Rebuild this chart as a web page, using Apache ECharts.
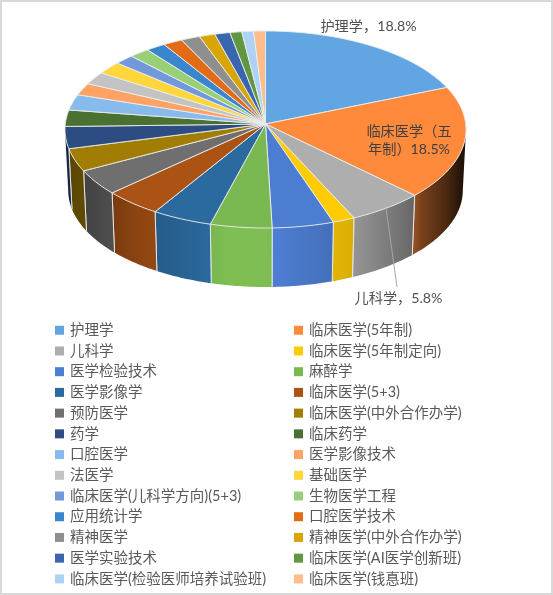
<!DOCTYPE html>
<html>
<head>
<meta charset="utf-8">
<script src="https://cdn.jsdelivr.net/npm/echarts@6/dist/echarts.min.js"></script>
<style>
html,body{margin:0;padding:0;background:#fff}
#chart{position:absolute;left:0;top:0;width:553px;height:595px}
#frame{position:absolute;left:0;top:0;width:553px;height:595px;box-sizing:border-box;border:2px solid #d9d9d9;pointer-events:none}
</style>
</head>
<body>
<div id="chart"></div>
<div id="frame"></div>
<script>
const categories = ['护理学','临床医学(5年制)','儿科学','临床医学(5年制定向)','医学检验技术','麻醉学','医学影像学','临床医学(5+3)','预防医学','临床医学(中外合作办学)','药学','临床药学','口腔医学','医学影像技术','法医学','基础医学','临床医学(儿科学方向)(5+3)','生物医学工程','应用统计学','口腔医学技术','精神医学','精神医学(中外合作办学)','医学实验技术','临床医学(AI医学创新班)','临床医学(检验医师培养试验班)','临床医学(钱惪班)'];
const shares = [18.8,18.5,5.8,1.7,4.7,4.7,4.6,4.4,4.1,3.7,3.6,2.7,2.6,2.0,2.1,2.1,1.65,1.7,1.65,1.65,1.6,1.35,1.3,1.0,1.0,1.0];
const colors = ['#62A5E3','#FF8A3C','#AEAEAE','#FFCB05','#4D7DD1','#7AB851','#2B6A9E','#AB5315','#6F6F6F','#A17D03','#2C4C82','#4A7131','#87BBEC','#FFA263','#C3C3C3','#FFD73A','#7399DD','#99CF77','#3A86CE','#E26B16','#8F8F8F','#D9A505','#3A66B0','#619741','#AED2F6','#FFBC8C'];

// Tilted-disc projection (unit circle to screen with slight perspective)
const P = 0.0558;
const topDisc = {cx:265.5, cy:124, a:98.2, b:200.2};
const baseDisc = {cx:265.5, cy:185, a:96.3, b:197};
const FONT = 'Lato, "Noto Sans CJK SC", sans-serif';
const INK = '#595959';
const EDGE = 'rgba(236,236,236,0.9)';
function project(d, share){
  const t = share/100*Math.PI*2, u = Math.sin(t), v = -Math.cos(t), w = 1-P*v;
  return [d.cx + d.b*u/w, d.cy + d.a*v/w];
}
// Side-wall lighting as a function of horizontal position (-1 left .. 1 right)
const light = [[-1,.55],[-.9,.6],[-.8,.68],[-.6,.85],[-.4,.93],[-.2,1.03],[0,1.03],[.3,.9],[.45,.85],[.74,.6],[.76,.5],[.9,.3],[1,.1]];
function shade(hex, t){
  let k = light[light.length-1][1];
  for(let i=1;i<light.length;i++){
    if(t<=light[i][0]){
      const a=light[i-1], b=light[i], f=Math.max(0,(t-a[0])/(b[0]-a[0]));
      k=a[1]+(b[1]-a[1])*f; break;
    }
  }
  const n=parseInt(hex.slice(1),16), c=[n>>16,(n>>8)&255,n&255].map(x=>Math.min(255,Math.round(x*k)));
  return 'rgb('+c.join(',')+')';
}
function arc(d, s0, s1){
  const pts=[], n=Math.max(2,Math.ceil((s1-s0)/0.2));
  for(let i=0;i<=n;i++) pts.push(project(d, s0+(s1-s0)*i/n));
  return pts;
}
const WALL_FROM = 25.9, WALL_TO = 74.1; // visible front part of the rim, in percent of turn

function labelFor(name, value){
  const pct = value.toFixed(1)+'%';
  const base = {fill:'#505050', font:'14.2px '+FONT, align:'center', verticalAlign:'middle', lineHeight:17.5};
  if(name==='护理学') return [{type:'text',style:Object.assign({},base,{x:368.5,y:26,text:name+'，'+pct})}];
  if(name==='临床医学(5年制)') return [{type:'text',style:Object.assign({},base,{x:409,y:140.5,fill:'#404040',text:'临床医学（五\n年制）'+pct})}];
  if(name==='儿科学') return [
    {type:'polyline',shape:{points:[[386,208],[397,287]]},style:{stroke:'#a6a6a6',lineWidth:1,fill:null}},
    {type:'text',style:Object.assign({},base,{x:398.5,y:298,text:name+'，'+pct})}
  ];
  return [];
}

function renderSlice(params, api){
  const value = api.value(0), start = api.value(1), end = start+value;
  const color = colors[params.seriesIndex], name = categories[params.seriesIndex];
  const children = [];
  const w0 = Math.max(start,WALL_FROM), w1 = Math.min(end,WALL_TO);
  if(w1>w0){
    const upper = arc(topDisc,w0,w1), lower = arc(baseDisc,w0,w1);
    const x0 = upper[0][0], x1 = upper[upper.length-1][0];
    const left = Math.min(x0,x1), right = Math.max(x0,x1), stops=[];
    for(let i=0;i<=8;i++){
      const x=left+(right-left)*i/8;
      stops.push({offset:i/8,color:shade(color,(x-topDisc.cx)/topDisc.b)});
    }
    children.push({type:'polygon',shape:{points:upper.concat(lower.reverse())},
      style:{fill:new echarts.graphic.LinearGradient(left,0,right,0,stops,true)}});
    if(start>=WALL_FROM) children.push({type:'line',shape:{x1:upper[0][0],y1:upper[0][1],x2:project(baseDisc,start)[0],y2:project(baseDisc,start)[1]},style:{stroke:EDGE,lineWidth:1}});
    if(end<=WALL_TO) children.push({type:'line',shape:{x1:x1,y1:upper[upper.length-1][1],x2:project(baseDisc,end)[0],y2:project(baseDisc,end)[1]},style:{stroke:EDGE,lineWidth:1}});
  }
  const rim = arc(topDisc,start,end);
  children.push({type:'polygon',shape:{points:[[topDisc.cx,topDisc.cy]].concat(rim)},
    style:{fill:color,stroke:EDGE,lineWidth:1,lineJoin:'round'}});
  return {type:'group',children:children.concat(labelFor(name,value))};
}

let running = 0;
const series = categories.map((name,i)=>{
  const start = running; running += shares[i];
  return {type:'custom',name:name,coordinateSystem:'none',renderItem:renderSlice,
    itemStyle:{color:colors[i]},silent:true,
    z:i<3?5:2,
    data:[{name:name,value:[shares[i],start]}]};
});
const legendBase = {orient:'vertical',top:318,icon:'rect',itemWidth:9,itemHeight:9,itemGap:6.22,selectedMode:false,
  textStyle:{fontSize:14.5,color:INK,fontFamily:FONT,padding:[0,0,0,1]}};
const chart = echarts.init(document.getElementById('chart'),null,{renderer:'canvas'});
chart.setOption({
  animation:false,
  backgroundColor:'#fff',
  legend:[
    Object.assign({},legendBase,{left:50,data:categories.filter((_,i)=>i%2===0)}),
    Object.assign({},legendBase,{left:289,data:categories.filter((_,i)=>i%2===1)})
  ],
  series:series
});
</script>
</body>
</html>
